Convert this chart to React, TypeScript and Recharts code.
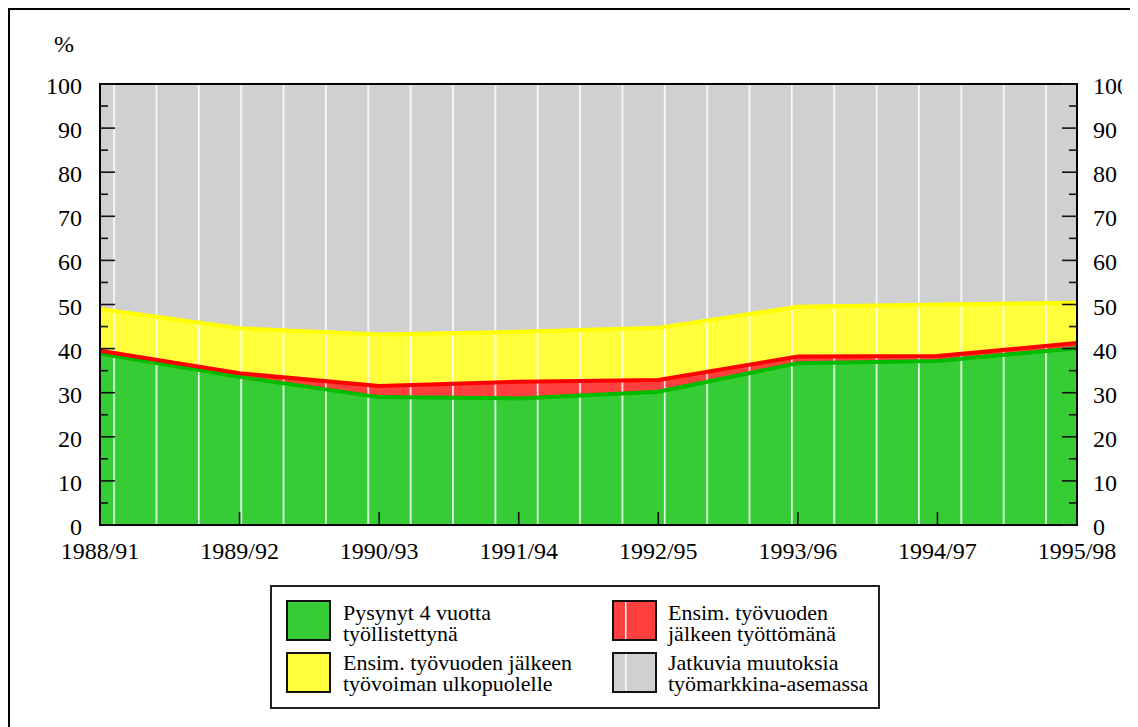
import { ComposedChart, Area, Line, XAxis, YAxis, ReferenceArea } from "recharts";

// four-year labour market status, stacked shares (%)
const periods = ["1988/91", "1989/92", "1990/93", "1991/94", "1992/95", "1993/96", "1994/97", "1995/98"];
const employed = [38.9, 33.6, 29.0, 28.7, 30.2, 36.7, 37.2, 40.1];
const unemployed = [0.6, 0.8, 2.5, 3.8, 2.7, 1.5, 1.1, 1.2];
const outside = [9.5, 10.2, 11.7, 11.3, 11.8, 11.3, 11.7, 9.1];
const changing = [51.0, 55.4, 56.8, 56.2, 55.3, 50.5, 50.0, 49.6];
const yTicks = [0, 5, 10, 15, 20, 25, 30, 35, 40, 45, 50, 55, 60, 65, 70, 75, 80, 85, 90, 95, 100];

const legendItems = [
  { lines: ["Pysynyt 4 vuotta", "työllistettynä"], fill: "#36cc36", stripe: false },
  { lines: ["Ensim. työvuoden jälkeen", "työvoiman ulkopuolelle"], fill: "#ffff3c", stripe: false },
  { lines: ["Ensim. työvuoden", "jälkeen työttömänä"], fill: "#ff3e3e", stripe: true },
  { lines: ["Jatkuvia muutoksia", "työmarkkina-asemassa"], fill: "#d0d0d0", stripe: true },
];

const FONT = "Liberation Serif, Times New Roman, DejaVu Serif, serif";
const W = 1114;
const H = 600;
const PLOT_L = 92;
const PLOT_R = 1069;
const PLOT_T = 76;
const PLOT_B = 517;
const STRIPE_X = 106; // first white stripe of the fill texture
const STRIPE_W = 42.36;

const rows = periods.map((period, i) => ({
  period,
  employed: employed[i],
  unemployed: unemployed[i],
  outside: outside[i],
  changing: changing[i],
  redTop: employed[i] + unemployed[i],
  yellowTop: employed[i] + unemployed[i] + outside[i],
}));

const LeftTick = ({ y, payload }: any) => {
  const major = payload.value % 10 === 0;
  return (
    <g>
      <line x1={PLOT_L} x2={PLOT_L + (major ? 15 : 8)} y1={y} y2={y} stroke="#111" strokeWidth={1.6} />
      {major && (
        <text x={74} y={y} dy={10} textAnchor="end" fontSize={24} fontFamily={FONT} fill="#000">
          {payload.value}
        </text>
      )}
    </g>
  );
};

const RightTick = ({ y, payload }: any) => {
  const major = payload.value % 10 === 0;
  return (
    <g>
      <line x1={PLOT_R} x2={PLOT_R - (major ? 15 : 8)} y1={y} y2={y} stroke="#111" strokeWidth={1.6} />
      {major && (
        <text x={1085} y={y} dy={10} textAnchor="start" fontSize={24} fontFamily={FONT} fill="#000">
          {payload.value}
        </text>
      )}
    </g>
  );
};

const XTick = ({ x, payload }: any) => (
  <g>
    <line x1={x} x2={x} y1={PLOT_B} y2={PLOT_B - 13} stroke="#111" strokeWidth={1.6} />
    <text x={x} y={PLOT_B + 34} textAnchor="middle" fontSize={24} fontFamily={FONT} fill="#000">
      {payload.value}
    </text>
  </g>
);

function Stripe({ id, color }: { id: string; color: string }) {
  return (
    <pattern id={id} patternUnits="userSpaceOnUse" x={STRIPE_X - 0.8} y={0} width={STRIPE_W} height={10}>
      <rect width={STRIPE_W} height={10} fill={color} />
      <rect x={0} width={1.7} height={10} fill="#ffffff" fillOpacity={0.9} />
    </pattern>
  );
}

function LegendBox() {
  return (
    <svg width={612} height={126} style={{ position: "absolute", left: 262, top: 577 }}>
      <rect x={1} y={1} width={608} height={122} fill="#fff" stroke="#222" strokeWidth={2} />
      {legendItems.map((it, i) => {
        const col = i < 2 ? 0 : 1;
        const row = i % 2;
        const sx = col === 0 ? 17 : 343;
        const sy = row === 0 ? 16 : 68;
        const tx = col === 0 ? 73 : 398;
        const by = row === 0 ? 35 : 85;
        return (
          <g key={i}>
            <rect x={sx} y={sy} width={43} height={39} fill={it.fill} stroke="#111" strokeWidth={2} />
            {it.stripe && <rect x={sx + 12} y={sy + 1} width={1.5} height={37} fill="#fff" />}
            <text x={tx} y={by} fontSize={22} fontFamily={FONT} fill="#000">
              {it.lines[0]}
            </text>
            <text x={tx} y={by + 21} fontSize={22} fontFamily={FONT} fill="#000">
              {it.lines[1]}
            </text>
          </g>
        );
      })}
    </svg>
  );
}

export default function App() {
  return (
    <div style={{ position: "relative", width: 1130, height: 719, overflow: "hidden", background: "#fff" }}>
      <style>{"body{overflow:hidden}"}</style>
      <div
        style={{
          position: "absolute",
          left: 0,
          top: 0,
          width: 1400,
          height: 900,
          border: "2px solid #000",
          boxSizing: "border-box",
        }}
      />
      <div style={{ position: "absolute", left: 0, top: 0 }}>
        <ComposedChart
          width={W}
          height={H}
          data={rows}
          margin={{ top: PLOT_T, left: PLOT_L - 60, right: 0, bottom: H - PLOT_B - 40 }}
        >
          <defs>
            <Stripe id="fGreen" color="#36cc36" />
            <Stripe id="fRed" color="#ff3e3e" />
            <Stripe id="fYellow" color="#ffff3c" />
            <Stripe id="fGray" color="#d0d0d0" />
          </defs>
          <Area type="linear" dataKey="employed" stackId="s" stroke="none" fill="url(#fGreen)" fillOpacity={1} isAnimationActive={false} />
          <Area type="linear" dataKey="unemployed" stackId="s" stroke="none" fill="url(#fRed)" fillOpacity={1} isAnimationActive={false} />
          <Area type="linear" dataKey="outside" stackId="s" stroke="none" fill="url(#fYellow)" fillOpacity={1} isAnimationActive={false} />
          <Area type="linear" dataKey="changing" stackId="s" stroke="none" fill="url(#fGray)" fillOpacity={1} isAnimationActive={false} />
          <Line type="linear" dataKey="employed" stroke="#00bb00" strokeWidth={4} dot={false} activeDot={false} isAnimationActive={false} />
          <Line type="linear" dataKey="redTop" stroke="#ff0000" strokeWidth={4} dot={false} activeDot={false} isAnimationActive={false} />
          <Line yAxisId="right" type="linear" dataKey="yellowTop" stroke="#ffff00" strokeWidth={4} dot={false} activeDot={false} isAnimationActive={false} />
          <XAxis
            dataKey="period"
            scale="point"
            height={40}
            interval={0}
            tickLine={false}
            axisLine={{ stroke: "#000", strokeWidth: 2 }}
            tick={<XTick />}
          />
          <YAxis
            yAxisId={0}
            orientation="left"
            width={60}
            domain={[0, 100]}
            ticks={yTicks}
            interval={0}
            tickLine={false}
            axisLine={{ stroke: "#000", strokeWidth: 2 }}
            tick={<LeftTick />}
          />
          <YAxis
            yAxisId="right"
            orientation="right"
            width={W - PLOT_R}
            domain={[0, 100]}
            ticks={yTicks}
            interval={0}
            tickLine={false}
            axisLine={{ stroke: "#000", strokeWidth: 2 }}
            tick={<RightTick />}
          />
          <ReferenceArea
            x1={periods[0]}
            x2={periods[periods.length - 1]}
            y1={0}
            y2={100}
            fill="none"
            stroke="#000"
            strokeWidth={2}
            ifOverflow="visible"
          />
        </ComposedChart>
      </div>
      <div
        style={{
          position: "absolute",
          left: 46,
          top: 24,
          fontFamily: FONT,
          fontSize: 24,
          lineHeight: "24px",
        }}
      >
        %
      </div>
      <LegendBox />
    </div>
  );
}
